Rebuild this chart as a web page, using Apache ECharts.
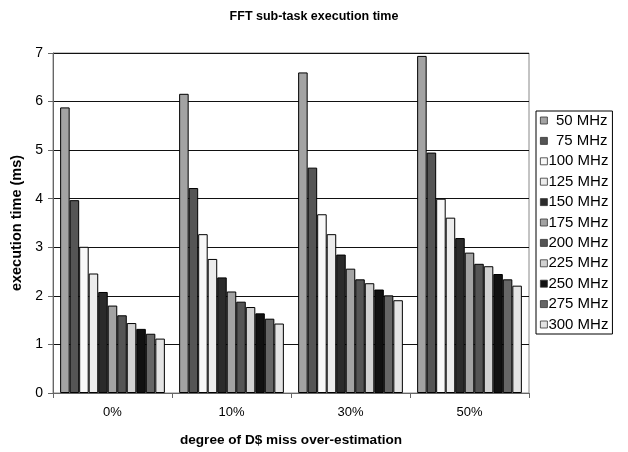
<!DOCTYPE html>
<html>
<head>
<meta charset="utf-8">
<script src="https://cdn.jsdelivr.net/npm/echarts@6/dist/echarts.min.js"></script>
<style>
  html, body { margin: 0; padding: 0; background: #fff; }
  #chart { width: 628px; height: 452px; }
</style>
</head>
<body>
<div id="chart"></div>
<script>
// Miss over-estimation levels on the x axis
const categories = ['0%', '10%', '30%', '50%'];

// Clock frequencies, one bar series each
const frequencies = ['50 MHz', '75 MHz', '100 MHz', '125 MHz', '150 MHz', '175 MHz',
                     '200 MHz', '225 MHz', '250 MHz', '275 MHz', '300 MHz'];

// Execution time (ms) per frequency, ordered as categories
const t50  = [5.88, 6.16, 6.60, 6.94];
const t75  = [3.97, 4.22, 4.64, 4.95];
const t100 = [3.01, 3.27, 3.68, 4.00];
const t125 = [2.46, 2.76, 3.27, 3.61];
const t150 = [2.08, 2.38, 2.85, 3.19];
const t175 = [1.80, 2.09, 2.56, 2.89];
const t200 = [1.60, 1.88, 2.34, 2.66];
const t225 = [1.44, 1.77, 2.26, 2.61];
const t250 = [1.32, 1.64, 2.13, 2.45];
const t275 = [1.22, 1.53, 2.01, 2.34];
const t300 = [1.12, 1.43, 1.91, 2.21];

const seriesValues = [t50, t75, t100, t125, t150, t175, t200, t225, t250, t275, t300];

// Y axis range
const yMin = 0;
const yMax = 7;
const yStep = 1;

const fills = ['#a3a3a3', '#555555', '#f8f8f8', '#ececec', '#2b2b2b', '#a3a3a3',
               '#555555', '#d2d2d2', '#111111', '#666666', '#e4e4e4'];

const font = '"Liberation Sans", Arial, sans-serif';

const chart = echarts.init(document.getElementById('chart'), null, { renderer: 'canvas' });

chart.setOption({
  animation: false,
  backgroundColor: '#ffffff',
  title: {
    text: 'FFT sub-task execution time',
    left: 'center',
    top: 5,
    textStyle: { fontFamily: font, fontSize: 12.5, fontWeight: 'bold', color: '#000' }
  },
  grid: {
    left: 53, right: 99, top: 53, bottom: 59,
    show: true, borderColor: '#888', borderWidth: 1, backgroundColor: '#fff'
  },
  legend: {
    orient: 'vertical',
    left: 536,
    top: 111,
    itemWidth: 7,
    itemHeight: 7,
    itemGap: 5.4,
    padding: [2, 4, 2, 4],
    borderColor: '#000',
    borderWidth: 1,
    backgroundColor: '#fff',
    icon: 'rect',
    itemStyle: { borderColor: '#333', borderWidth: 0.8 },
    data: frequencies,
    formatter: name => (name.length < 7 ? '\u2002' : '') + name,
    textStyle: { fontFamily: font, fontSize: 15, lineHeight: 15, color: '#000', padding: [0, 0, 0, -4] }
  },
  xAxis: {
    type: 'category',
    data: categories,
    name: 'degree of D$ miss over-estimation',
    nameLocation: 'middle',
    nameGap: 40,
    nameTextStyle: { fontFamily: font, fontSize: 13.6, fontWeight: 'bold', color: '#000' },
    axisLine: { lineStyle: { color: '#666', width: 1 } },
    axisTick: { show: true, length: 5, alignWithLabel: false, lineStyle: { color: '#666' } },
    axisLabel: { fontFamily: font, fontSize: 13, color: '#000', margin: 13 },
    splitLine: { show: false }
  },
  yAxis: {
    type: 'value',
    min: yMin, max: yMax, interval: yStep,
    name: 'execution time (ms)',
    nameLocation: 'middle',
    nameGap: 22,
    nameTextStyle: { fontFamily: font, fontSize: 14.5, fontWeight: 'bold', color: '#000' },
    axisLine: { show: true, lineStyle: { color: '#666', width: 1 } },
    axisTick: { show: true, length: 5, lineStyle: { color: '#666' } },
    axisLabel: { fontFamily: font, fontSize: 14, color: '#000', margin: 10 },
    splitLine: { show: true, lineStyle: { color: '#111', width: 1 } }
  },
  series: frequencies.map((name, i) => ({
    name: name,
    type: 'bar',
    data: seriesValues[i],
    barGap: '0%',
    barCategoryGap: '12%',
    itemStyle: { color: fills[i], borderColor: '#000', borderWidth: 1 }
  }))
});
</script>
</body>
</html>
